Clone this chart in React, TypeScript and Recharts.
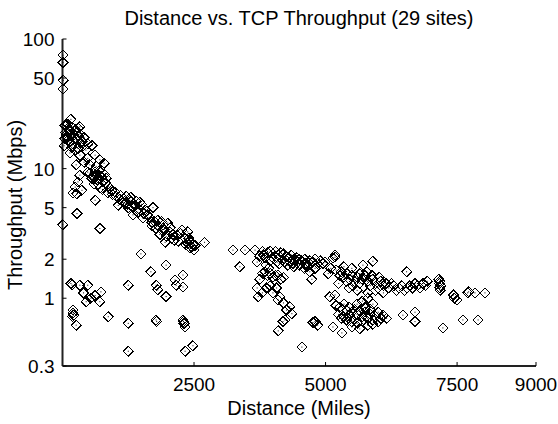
import { ScatterChart, Scatter, XAxis, YAxis } from "recharts"

// distance (miles), throughput (Mbps)
const axisSites: [number, number][] = [
  [10, 75], [10, 66], [15, 48], [10, 41], [5, 3.7],
]

const shortHaul: [number, number][] = [
  [160, 24], [50, 21.5], [105, 20.5], [180, 21], [240, 20], [295, 20.5], [140, 19.3], [65, 18.2],
  [220, 18.2], [330, 18.5], [410, 17.4], [105, 16.6], [260, 17], [370, 16.2], [480, 15.5], [30, 15],
  [180, 15], [295, 14.3], [445, 13.9], [560, 15.1], [140, 13.2], [330, 12.7], [480, 12], [620, 12.7],
  [710, 11.7], [410, 11.2], [260, 10.7], [520, 10.7], [640, 10.4], [790, 11], [480, 9.4], [330, 8.9],
  [620, 9.4], [295, 7.9], [560, 8.4], [660, 8.2], [710, 8.8], [770, 7.9], [830, 8.4], [600, 7.6],
  [870, 7.3], [200, 6.5], [240, 7.2], [370, 6.8], [275, 6.4], [940, 6.8], [620, 5.7], [860, 6.5],
  [1020, 6.1], [1090, 5.8], [1150, 5.5], [1060, 5.2], [1210, 6.1], [1280, 5.7], [1190, 5.4], [1380, 5.2],
  [1470, 5.5], [1250, 5.0], [1430, 4.6], [1570, 4.8], [1720, 5.0], [1340, 4.4], [1530, 4.15], [1620, 4.4],
  [1700, 3.85], [1810, 4.0], [1910, 3.67], [2000, 3.8], [1780, 3.45], [1890, 3.36], [1850, 3.1], [1970, 3.0],
  [2040, 3.25], [2080, 2.9], [1950, 2.7], [2180, 3.05], [2270, 3.36], [2380, 3.25], [2330, 2.9], [2420, 2.75],
  [2350, 2.57], [2460, 2.5], [2380, 2.65], [2700, 2.7], [1490, 2.2], [710, 3.45], [275, 4.5],
  [60, 19], [90, 17.5], [120, 20], [150, 18], [200, 17.8], [230, 19.5], [270, 16.5], [310, 17.8],
  [350, 15.8], [390, 15], [130, 16], [170, 14.5], [250, 13.8], [40, 17], [100, 22], [330, 21],
  [520, 9.2], [580, 8.7], [640, 8.9], [700, 9.6], [740, 8.6], [800, 9.0], [680, 7.6], [720, 7.1],
  [760, 6.9], [820, 7.7], [900, 7.1], [950, 6.3], [1000, 6.6], [1100, 6.2], [1160, 5.9], [1240, 5.3],
  [1300, 6.0], [1320, 5.1], [1400, 5.6], [1450, 4.9], [1500, 5.3], [1550, 4.5], [1600, 4.7], [1650, 4.2],
  [1700, 3.6], [1750, 3.9], [1820, 3.6], [1880, 3.9], [1930, 3.4], [2050, 3.5], [2100, 3.1], [2120, 2.8],
  [2200, 2.75], [2240, 3.15], [2300, 3.0], [2400, 2.9], [2420, 2.45], [2480, 2.6], [2500, 2.35], [2520, 2.55],
]

const shortHaulSlow: [number, number][] = [
  [160, 1.3], [180, 1.26], [330, 1.26], [480, 1.26], [730, 1.12], [540, 1.0], [450, 0.94], [710, 0.94],
  [620, 1.05], [400, 1.1], [200, 0.81], [200, 0.77], [210, 0.74], [190, 0.72], [260, 0.62], [870, 0.72],
  [1250, 1.26], [1250, 0.64], [1250, 0.39], [1680, 1.6], [1970, 1.8], [1780, 1.26], [1810, 1.16], [1970, 1.03],
  [2160, 1.26], [2290, 1.51], [2290, 1.22], [2140, 1.38], [1780, 0.68], [1790, 0.66], [2290, 0.68], [2300, 0.66],
  [2310, 0.64], [2330, 0.6], [2330, 0.39], [2480, 0.43],
]

const midHaul: [number, number][] = [
  [3240, 2.35], [3470, 2.35], [3660, 2.35], [3800, 2.3], [3900, 2.25], [3950, 2.3], [4000, 2.2], [4050, 2.3],
  [4100, 2.15], [4150, 2.25], [4200, 2.2], [4250, 2.1], [4300, 2.05], [4350, 2.15], [4400, 2.0], [4450, 2.05],
  [4500, 2.0], [4550, 1.95], [4600, 2.0], [4700, 1.95], [4750, 1.9], [4800, 2.0], [4850, 1.85], [4900, 1.95],
  [4950, 1.85], [3850, 2.05], [3950, 1.95], [4020, 2.0], [4080, 1.9], [4120, 1.85], [4180, 1.95], [4220, 1.9],
  [4280, 1.8], [3370, 1.75], [3750, 1.4], [3800, 1.55], [3850, 1.6], [3900, 1.5], [3950, 1.55], [4000, 1.45],
  [4050, 1.5], [4100, 1.51], [4150, 1.4], [4200, 1.45], [4740, 1.4], [4400, 1.75], [4500, 1.8], [4600, 1.7],
  [4650, 1.75], [4800, 1.7], [3700, 1.9], [3750, 2.1], [3820, 2.15], [3870, 1.8], [3920, 1.7], [4330, 1.9],
  [4380, 1.85], [4480, 1.9], [4630, 1.85], [4700, 1.6],
]

const midHaulSlow: [number, number][] = [
  [3700, 1.2], [3880, 1.2], [3720, 1.03], [4070, 1.2], [4130, 1.03], [4100, 0.97], [4200, 0.92], [4260, 0.81],
  [4320, 0.86], [4360, 0.76], [4230, 0.68], [4190, 0.66], [4100, 0.56], [4550, 0.42], [4760, 0.65], [4800, 0.66],
  [4850, 0.62], [3800, 1.1], [3950, 1.25], [4000, 1.1],
]

const longHaul: [number, number][] = [
  [4990, 1.9], [5180, 2.07], [5140, 2.05], [5180, 2.15], [5270, 1.5], [5300, 1.6], [5350, 1.45], [5400, 1.55],
  [5450, 1.4], [5500, 1.5], [5550, 1.35], [5600, 1.45], [5650, 1.3], [5700, 1.4], [5750, 1.5], [5800, 1.35],
  [5850, 1.25], [5900, 1.4], [5950, 1.3], [6000, 1.2], [6050, 1.35], [6100, 1.25], [6150, 1.3], [6200, 1.2],
  [6250, 1.3], [6300, 1.25], [6350, 1.15], [6400, 1.2], [6450, 1.25], [6500, 1.15], [6550, 1.2], [6600, 1.25],
  [6650, 1.2], [6700, 1.3], [6750, 1.25], [6800, 1.2], [6850, 1.3], [6900, 1.25], [6930, 1.35], [5710, 1.8],
  [5900, 1.93], [6540, 1.6], [5500, 1.7], [5350, 1.75], [5450, 1.2], [5600, 1.15], [5800, 1.1], [5950, 1.15],
  [6100, 1.1], [5100, 1.7], [5200, 1.65], [5050, 1.55], [7170, 1.35], [7170, 1.3], [7190, 1.25], [7170, 1.2],
  [7150, 1.4], [7180, 1.15], [7430, 1.06], [7500, 0.97], [7450, 1.0], [7700, 1.1], [7720, 1.12], [7840, 1.1],
  [8030, 1.1], [5180, 1.06], [5250, 1.3], [5400, 1.35], [5520, 1.25], [5650, 1.55], [5780, 1.6], [5880, 1.5],
  [6020, 1.45],
]

const longHaulSlow: [number, number][] = [
  [5080, 1.03], [5200, 0.88], [5270, 0.85], [5350, 0.9], [5400, 0.8], [5450, 0.85], [5500, 0.78], [5550, 0.82],
  [5600, 0.75], [5650, 0.8], [5700, 0.72], [5750, 0.78], [5800, 0.7], [5850, 0.75], [5900, 0.68], [5950, 0.72],
  [6000, 0.66], [6050, 0.7], [6100, 0.74], [6160, 0.7], [5300, 0.7], [5400, 0.68], [5500, 0.66], [5600, 0.64],
  [5700, 0.66], [5800, 0.62], [5140, 0.6], [5310, 0.54], [5500, 0.6], [5650, 0.58], [5900, 0.63], [5700, 0.95],
  [5800, 1.0], [5900, 0.9], [5600, 0.9], [5750, 0.85], [5850, 0.82], [6000, 0.78], [5250, 0.75], [5350, 0.72],
  [5450, 0.74], [7610, 0.68], [7900, 0.68], [7230, 0.59], [6470, 0.74], [6700, 0.78], [6700, 0.66],
]

const xTicks = [2500, 5000, 7500, 9000]
const yTicks = [0.3, 1, 2, 5, 10, 50, 100]

const FONT = '"Liberation Sans", Arial, sans-serif'

const points = [
  ...axisSites, ...shortHaul, ...shortHaulSlow, ...midHaul, ...midHaulSlow, ...longHaul, ...longHaulSlow,
].map(([x, y]) => ({ x, y }))

const Diamond = (props: any) => {
  const { cx, cy } = props
  if (cx == null || cy == null) return null
  const r = 5
  return (
    <g>
      <path
        d={`M${cx},${cy - r}L${cx + r},${cy}L${cx},${cy + r}L${cx - r},${cy}Z`}
        fill="none"
        stroke="#000"
        strokeWidth={1}
        shapeRendering="crispEdges"
      />
      <rect x={cx - 0.5} y={cy - 0.5} width={1} height={1} fill="#000" />
    </g>
  )
}

const BottomTick = ({ x, y, payload }: any) => (
  <g>
    <line x1={x} y1={y} x2={x} y2={y - 4} stroke="#000" />
    <text x={x} y={y + 25} textAnchor="middle" fontSize={19} fontFamily={FONT} fill="#000">
      {payload.value}
    </text>
  </g>
)

const TopTick = ({ x, y }: any) => <line x1={x} y1={y} x2={x} y2={y + 4} stroke="#000" />

const LeftTick = ({ x, y, payload }: any) => (
  <g>
    <line x1={x} y1={y} x2={x + 4} y2={y} stroke="#000" />
    <text x={x - 8} y={y + 7} textAnchor="end" fontSize={19} fontFamily={FONT} fill="#000">
      {payload.value}
    </text>
  </g>
)

const RightTick = ({ x, y }: any) => <line x1={x} y1={y} x2={x - 4} y2={y} stroke="#000" />

const frame = { stroke: "#222", strokeWidth: 2 }

export default function App() {
  return (
    <div style={{ position: "absolute", left: 0, top: 0, width: 558, height: 424, background: "#fff" }}>
      <ScatterChart width={558} height={424} margin={{ top: 39, right: 22, bottom: 0, left: 0 }}>
        <XAxis
          xAxisId="b"
          dataKey="x"
          type="number"
          domain={[0, 9000]}
          ticks={xTicks}
          interval={0}
          height={58}
          tickSize={0}
          tickMargin={0}
          tickLine={false}
          axisLine={frame}
          tick={<BottomTick />}
        />
        <XAxis
          xAxisId="t"
          orientation="top"
          type="number"
          domain={[0, 9000]}
          ticks={xTicks}
          interval={0}
          height={0}
          tickSize={0}
          tickMargin={0}
          tickLine={false}
          axisLine={frame}
          tick={<TopTick />}
        />
        <YAxis
          yAxisId="l"
          dataKey="y"
          type="number"
          scale="log"
          domain={[0.3, 100]}
          ticks={yTicks}
          interval={0}
          width={62.5}
          tickSize={0}
          tickMargin={0}
          tickLine={false}
          axisLine={frame}
          tick={<LeftTick />}
        />
        <YAxis
          yAxisId="r"
          orientation="right"
          type="number"
          scale="log"
          domain={[0.3, 100]}
          ticks={yTicks}
          interval={0}
          width={0}
          tickSize={0}
          tickMargin={0}
          tickLine={false}
          axisLine={frame}
          tick={<RightTick />}
        />
        <Scatter data={points} xAxisId="b" yAxisId="l" shape={<Diamond />} isAnimationActive={false} />
      </ScatterChart>
      <svg
        width={558}
        height={424}
        style={{ position: "absolute", left: 0, top: 0, pointerEvents: "none" }}
      >
        <text x={299} y={25} textAnchor="middle" fontSize={20} fontFamily={FONT} fill="#000">
          Distance vs. TCP Throughput (29 sites)
        </text>
        <text x={299} y={415} textAnchor="middle" fontSize={20} fontFamily={FONT} fill="#000">
          Distance (Miles)
        </text>
        <text
          x={22}
          y={205}
          transform="rotate(-90 22 205)"
          textAnchor="middle"
          fontSize={20}
          fontFamily={FONT}
          fill="#000"
        >
          Throughput (Mbps)
        </text>
      </svg>
    </div>
  )
}
